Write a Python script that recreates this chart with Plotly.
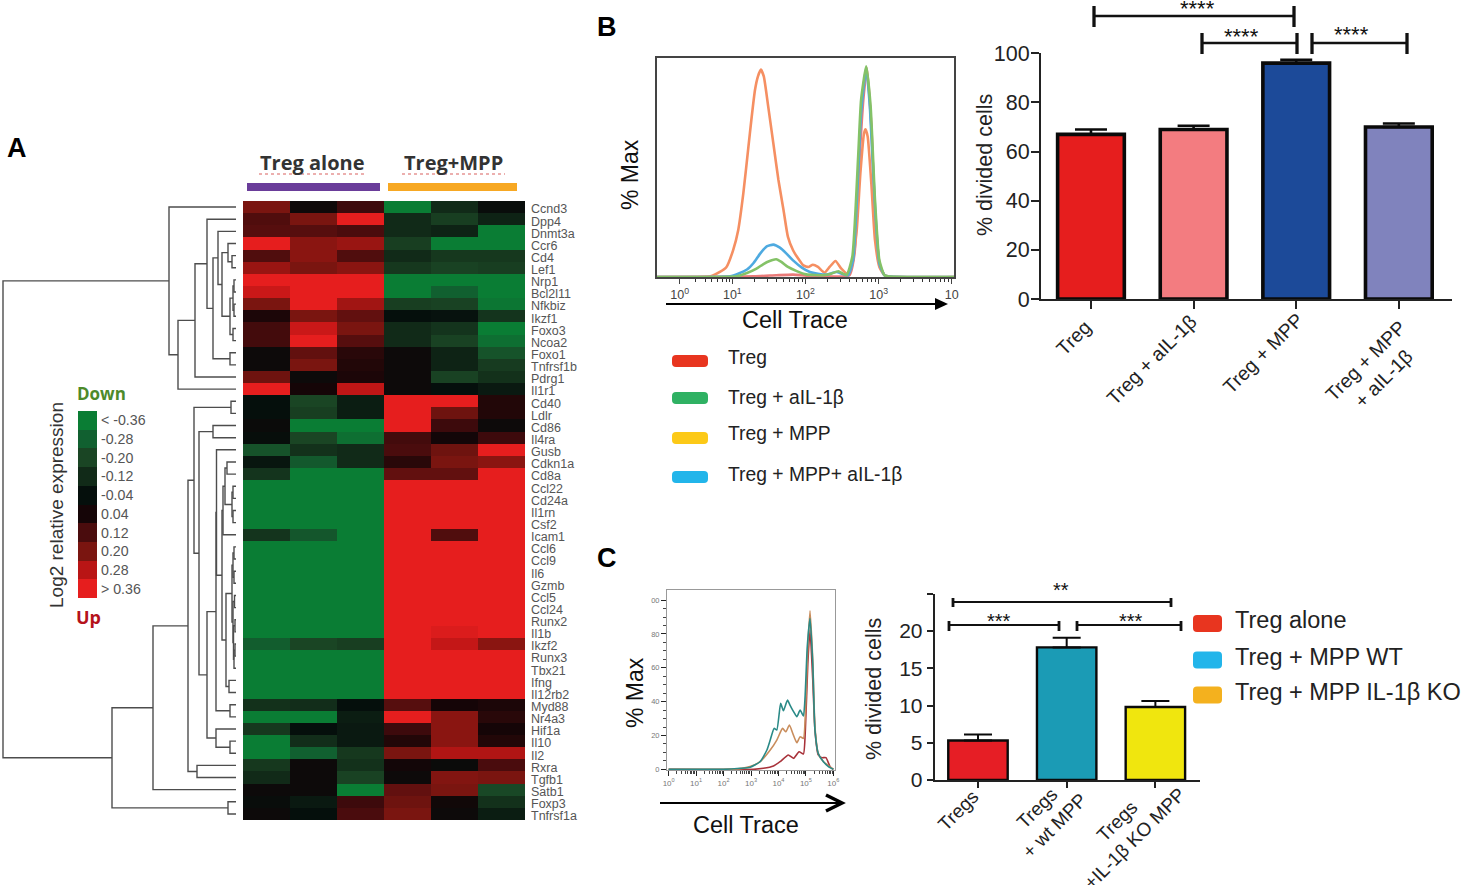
import numpy as np
import plotly.graph_objects as go

W, H = 1461, 885
SANS = "Liberation Sans"

# ---------- Panel A data ----------
genes = ["Ccnd3","Dpp4","Dnmt3a","Ccr6","Cd4","Lef1","Nrp1","Bcl2l11","Nfkbiz","Ikzf1","Foxo3","Ncoa2","Foxo1","Tnfrsf1b","Pdrg1","Il1r1",
         "Cd40","Ldlr","Cd86","Il4ra","Gusb","Cdkn1a","Cd8a","Ccl22","Cd24a","Il1rn","Csf2","Icam1","Ccl6","Ccl9","Il6","Gzmb","Ccl5","Ccl24","Runx2","Il1b","Ikzf2",
         "Runx3","Tbx21","Ifng","Il12rb2","Myd88","Nr4a3","Hif1a","Il10","Il2","Rxra","Tgfb1","Satb1","Foxp3","Tnfrsf1a"]
G = [-.36, -.36, -.36, .36, .36, .36]
heat_values = [
 [.20,.01,.10,-.36,-.12,-.02],[.13,.20,.36,-.12,-.18,-.10],[.14,.14,.12,-.12,-.10,-.36],[.36,.22,.24,-.18,-.36,-.36],
 [.13,.22,.13,-.12,-.16,-.16],[.24,.20,.22,-.16,-.19,-.18],[.36,.36,.36,-.36,-.36,-.36],[.31,.36,.36,-.36,-.28,-.36],
 [.20,.36,.25,-.18,-.19,-.34],[.05,.20,.16,-.04,-.05,-.15],[.11,.31,.20,-.12,-.15,-.36],[.11,.36,.14,-.12,-.19,-.32],
 [0,.16,.07,0,-.10,-.24],[0,.20,.06,0,-.10,-.17],[.18,0,.05,0,-.19,-.14],[.36,.04,.29,0,-.04,-.07],
 [-.04,-.20,-.08,.36,.36,.06],[-.04,-.18,-.08,.36,.18,.06],[-.01,-.36,-.36,.36,.10,0],[-.03,-.20,-.32,.11,.03,.10],
 [-.24,-.14,-.12,.12,.18,.36],[-.06,-.26,-.12,.07,.20,.22],[-.15,-.36,-.36,.16,.16,.36],G,G,G,G,
 [-.15,-.25,-.36,.36,.13,.36],G,G,G,G,G,G,G,[-.36,-.36,-.36,.36,.34,.36],[-.27,-.20,-.18,.36,.30,.22],G,G,G,G,
 [-.14,-.13,-.04,.14,.04,.05],[-.36,-.36,-.08,.36,.22,.07],[-.16,-.04,-.07,.10,.22,.04],[-.36,-.13,-.07,.06,.22,.06],
 [-.36,-.28,-.16,.20,.27,.27],[-.16,0,-.14,.03,-.01,.12],[-.12,0,-.19,0,.21,.20],[0,0,-.36,.16,.20,-.21],
 [-.02,-.07,.10,.18,.02,-.14],[0,-.04,.12,.20,0,-.08],
]
scale_levels = [-.36, -.28, -.20, -.12, -.04, .04, .12, .20, .28, .36]
scale_labels = ["< -0.36", "-0.28", "-0.20", "-0.12", "-0.04", "0.04", "0.12", "0.20", "0.28", "> 0.36"]
scale_colors = ["#0a7d34", "#116030", "#1a4524", "#112a18", "#050f0c", "#150507", "#4a0c0d", "#7a1510", "#b91515", "#e61e1e"]

# dendrogram: (merge distance, child, child), ints are gene rows
row_tree = (233,
  (67, 0, (58, (41, (29, 1, (23, (18, 2, (14, (8, 3, (4, 4, 5)),
        (6, (3, (2, 6, 7), (2, 8, 9)), (3, 10, 11)))), (6, 12, 13))), 14), 15)),
  (124, (83, (48, (42, (5, 16, 17), (37, (23, 18, 19),
        (29, (20, (19.5, 20, (14, (13, (11, (9, 21, 22), (4, (3, 23, 24), (3, 25, 26))), 27),
              (10, (4, (3, (2, 28, 29), (2, 30, 31)), (3, (1.5, 32, 33), (2.5, (1, 34, 35), (2, (1, 36, 37), 38)))), (7, 39, 40)))),
             (6, 41, 42)), (20, 43, (6, 44, 45))))), (39, 46, 47)), 48), (8, 49, 50)))

# ---------- Panel B data ----------
b_red_x = [-.03,1.29,1.60,1.83,2.06,2.60,2.67,2.74,2.79,2.84,2.90,2.95,3.02,3.10,4.03]
b_red_y = [0,.3,.8,1.1,.6,.8,10.7,55,80.9,95.4,68.7,29,4.6,.3,0]
b_orange_x = [-.03,.70,.83,.92,1.01,1.08,1.15,1.22,1.26,1.31,1.35,1.39,1.43,1.49,1.56,1.63,1.70,1.76,1.83,1.90,1.97,2.04,2.10,2.17,2.26,2.33,2.41,2.49,2.57,2.63,2.70,2.75,2.80,2.82,2.85,2.90,2.95,3.01,3.08,3.15,4.03]
b_orange_y = [0,.3,2.3,4.6,12.2,21.4,38.2,59.5,71.8,85.5,91.6,94.7,91.6,77.9,61.1,44.3,30.5,18.3,12.2,8.4,5.3,4.6,5.6,4.6,2,4.6,7.3,3.8,1.5,4.6,21.4,47.3,65.6,67.5,64.1,42.7,16.8,4.6,.8,.2,0]
b_blue_x = [-.03,.97,1.08,1.20,1.29,1.38,1.47,1.56,1.65,1.74,1.83,1.95,2.06,2.17,2.29,2.42,2.58,2.65,2.72,2.76,2.83,2.88,2.95,3.01,3.08,3.15,4.03]
b_blue_y = [0,.3,1.5,3.4,6.4,10.7,14,14.8,13.4,10.7,7.6,4.3,2.3,1.5,1.1,2.3,.8,7.6,47.3,74.8,95.4,77.9,32.1,6.1,.8,.2,0]
b_green_x = [-.03,1.06,1.20,1.33,1.42,1.51,1.60,1.67,1.76,1.88,2.01,2.24,2.35,2.45,2.56,2.64,2.72,2.76,2.83,2.89,2.95,3.01,3.08,3.15,4.03]
b_green_y = [0,.3,1.8,3.8,5.8,7.3,8.1,6.9,4.6,2.7,1.2,.8,1.5,2.6,.9,9.2,55,80.9,96.2,77.9,35.1,7.6,.8,.2,0]
b_bar_names = ["Treg", "Treg + aIL-1β", "Treg + MPP", "Treg + MPP<br>+ aIL-1β"]
b_bar_values = [67, 69, 96, 70]
b_bar_errors = [2, 1.5, 1.4, 1.4]
b_bar_colors = ["#e61e1e", "#f37c80", "#1c4a99", "#8083bd"]
b_legend = ["Treg", "Treg + aIL-1β", "Treg + MPP", "Treg + MPP+ aIL-1β"]
b_legend_colors = ["#e8351f", "#2fb163", "#fcc917", "#22b5ea"]

# ---------- Panel C data ----------
c_red_x = [0,3.09,3.45,3.82,4.06,4.36,4.55,4.75,4.91,4.98,5.07,5.15,5.25,5.33,5.45,5.58,5.73,5.88,6.0]
c_red_y = [0,0,.6,2,4.5,8.5,6.5,10.4,9.1,23.2,62.6,82.3,52.8,23.2,8.5,6.9,6.9,1.6,0]
c_tan_x = [0,2.0,2.61,2.97,3.33,3.70,3.94,4.15,4.27,4.40,4.52,4.67,4.79,4.91,4.99,5.07,5.15,5.25,5.33,5.45,5.64,6.0]
c_tan_y = [0,0,.4,1.6,4.5,11.4,17.3,24.2,22.2,26.2,21.3,15.7,19.3,18.3,37,72.4,93.7,64.6,25.2,9.4,4.5,0]
c_teal_x = [0,2.0,2.61,2.97,3.33,3.58,3.70,3.84,3.94,4.08,4.18,4.33,4.42,4.55,4.67,4.79,4.91,4.97,5.05,5.15,5.25,5.33,5.45,5.64,5.82,6.0]
c_teal_y = [0,0,.6,1.2,4.5,11.4,17.3,24.2,23.2,39,34.6,40.9,38,34.1,31.1,35,31.5,42.9,72.4,89.2,62.6,23.2,9.4,4.5,1.6,0]
c_bar_names = ["Tregs", "Tregs<br>+ wt MPP", "Tregs<br>+IL-1β KO MPP"]
c_bar_values = [5.3, 17.8, 9.8]
c_bar_errors = [0.8, 1.3, 0.8]
c_bar_colors = ["#e61e25", "#1b9bb5", "#f0e60e"]
c_legend = ["Treg alone", "Treg + MPP WT", "Treg + MPP IL-1β KO"]
c_legend_colors = ["#e8351f", "#22b5ea", "#f4b11e"]

# ---------- helpers ----------
def dx(a, b): return [a / W, b / W]
def dy(top, bottom): return [1 - bottom / H, 1 - top / H]
def px(x): return x / W
def py(y): return 1 - y / H

shapes, notes = [], []
def line(x0, y0, x1, y1, width=2.5, color="#111", dash="solid"):
    shapes.append(dict(type="line", xref="paper", yref="paper", x0=px(x0), y0=py(y0), x1=px(x1), y1=py(y1),
                       line=dict(color=color, width=width, dash=dash)))
def bracket(x0, x1, y, t0, t1, width=2.5):
    line(x0, y, x1, y, width)
    line(x0, t0, x0, t1, width + .8)
    line(x1, t0, x1, t1, width + .8)
def rrect(x0, y0, x1, y1, color, r=4):
    a, b, c, d = px(x0), px(x1), py(y0), py(y1)
    rx, ry = r / W, r / H
    path = (f"M {a+rx} {c} L {b-rx} {c} Q {b} {c} {b} {c-ry} L {b} {d+ry} Q {b} {d} {b-rx} {d} "
            f"L {a+rx} {d} Q {a} {d} {a} {d+ry} L {a} {c-ry} Q {a} {c} {a+rx} {c} Z")
    shapes.append(dict(type="path", xref="paper", yref="paper", path=path, fillcolor=color, line=dict(width=0)))
def txt(x, y, s, size, color="#1a1a1a", rot=0, anchor="center", family=SANS):
    notes.append(dict(xref="paper", yref="paper", x=px(x), y=py(y), text=s, showarrow=False, textangle=rot,
                      font=dict(family=family, size=size, color=color), xanchor=anchor, yanchor="middle",
                      align="center"))

fig = go.Figure()
cs = [[(v + .36) / .72, c] for v, c in zip(scale_levels, scale_colors)]
smooth = dict(shape="spline", smoothing=.5)

# ---------- Panel A ----------
fig.add_trace(go.Heatmap(z=heat_values, x=list(range(6)), y=list(range(len(genes))), zmin=-.36, zmax=.36, colorscale=cs,
                         showscale=False, xgap=0, ygap=0, xaxis="x", yaxis="y", hoverinfo="skip"))
dend_x, dend_y = [], []
def walk(node):
    if isinstance(node, int):
        return 0, node
    d, a, b = node
    da, ya = walk(a)
    db, yb = walk(b)
    dend_x.extend([da, d, d, db, None])
    dend_y.extend([ya, ya, yb, yb, None])
    return d, (ya + yb) / 2
walk(row_tree)
fig.add_trace(go.Scatter(x=dend_x, y=dend_y, mode="lines", line=dict(color="#4d4d4d", width=1.4), xaxis="x2", yaxis="y2", hoverinfo="skip"))
fig.add_trace(go.Heatmap(z=[[v] for v in scale_levels], y=list(range(10)), x=[0], zmin=-.36, zmax=.36, colorscale=cs,
                         showscale=False, xaxis="x3", yaxis="y3", hoverinfo="skip"))

# ---------- Panel B histogram ----------
for xs, ys, col in [(b_red_x, b_red_y, "#ea7a78"), (b_orange_x, b_orange_y, "#f58f62"),
                    (b_blue_x, b_blue_y, "#4eaae0"), (b_green_x, b_green_y, "#84c267")]:
    fig.add_trace(go.Scatter(x=xs, y=ys, mode="lines", line=dict(color=col, width=2.6, **smooth), xaxis="x4", yaxis="y4", hoverinfo="skip"))
# ---------- Panel B bars ----------
fig.add_trace(go.Bar(x=list(range(4)), y=b_bar_values, width=.65, marker=dict(color=b_bar_colors, line=dict(color="#0a0a0a", width=3.6)),
                     error_y=dict(type="data", array=b_bar_errors, symmetric=False, arrayminus=[0]*4, color="#0a0a0a", thickness=2.6, width=16),
                     xaxis="x5", yaxis="y5", hoverinfo="skip"))
# ---------- Panel C histogram ----------
for xs, ys, col in [(c_red_x, c_red_y, "#a8323a"), (c_tan_x, c_tan_y, "#c98d5c"), (c_teal_x, c_teal_y, "#2a8a87")]:
    fig.add_trace(go.Scatter(x=xs, y=ys, mode="lines", line=dict(color=col, width=1.6, **smooth), xaxis="x6", yaxis="y6", hoverinfo="skip"))
# ---------- Panel C bars ----------
fig.add_trace(go.Bar(x=list(range(3)), y=c_bar_values, width=.67, marker=dict(color=c_bar_colors, line=dict(color="#0a0a0a", width=2.4)),
                     error_y=dict(type="data", array=c_bar_errors, symmetric=False, arrayminus=[0]*3, color="#0a0a0a", thickness=2, width=14),
                     xaxis="x7", yaxis="y7", hoverinfo="skip"))

decade_minor = np.concatenate([d + np.log10(np.arange(2, 10)) for d in (1, 2, 3)]).tolist() + [.5, .63, .72, .8, .86, .92, .96]
c_minor = np.concatenate([d + np.log10(np.arange(2, 10)) for d in range(6)]).tolist()

fig.update_layout(
    template="none",
    width=W, height=H, autosize=False, margin=dict(l=0, r=0, t=0, b=0), paper_bgcolor="white", plot_bgcolor="white",
    showlegend=False, barmode="overlay", font=dict(family=SANS),
    xaxis=dict(domain=dx(243, 525), range=[-.5, 5.5], visible=False),
    yaxis=dict(domain=dy(201, 820), range=[50.5, -.5], side="right", tickmode="array", tickvals=[i + .16 for i in range(51)], ticktext=genes,
               ticks="", showline=False, showgrid=False, zeroline=False, tickfont=dict(family=SANS, size=12.5, color="#555"), ticklabelstandoff=5),
    xaxis2=dict(domain=dx(0, 243), range=[236, -7], visible=False),
    yaxis2=dict(domain=dy(201, 820), range=[50.5, -.5], visible=False, anchor="x2"),
    xaxis3=dict(domain=dx(78, 97), range=[-.5, .5], visible=False, anchor="y3"),
    yaxis3=dict(domain=dy(411, 598), range=[9.5, -.5], side="right", anchor="x3", tickmode="array", tickvals=list(range(10)), ticktext=scale_labels,
                ticks="", showline=False, showgrid=False, zeroline=False, tickfont=dict(family=SANS, size=14.2, color="#555"), ticklabelstandoff=3),
    xaxis4=dict(domain=dx(657, 954), range=[-.03, 4.03], anchor="y4", tickmode="array", tickvals=[.28, 1, 2, 3, 4],
                ticktext=["10<sup>0</sup>", "10<sup>1</sup>", "10<sup>2</sup>", "10<sup>3</sup>", "10"], ticks="outside", ticklen=5, tickwidth=1.2,
                minor=dict(tickmode="array", tickvals=decade_minor, ticks="outside", ticklen=3, tickwidth=.8, tickcolor="#333"),
                showline=True, linecolor="#444", linewidth=1.6, mirror=True, showgrid=False, zeroline=False,
                tickfont=dict(family=SANS, size=12.5, color="#444")),
    yaxis4=dict(domain=dy(58, 277), range=[0, 100], anchor="x4", showticklabels=False, ticks="", showline=True, linecolor="#444", linewidth=1.6,
                mirror=True, showgrid=False, zeroline=False),
    xaxis5=dict(domain=dx(1041, 1452), range=[-.487, 3.518], anchor="y5", tickmode="array", tickvals=list(range(4)), showticklabels=False,
                ticks="outside", ticklen=8, tickwidth=2, tickcolor="#222", showline=True, linecolor="#222", linewidth=2, showgrid=False,
                zeroline=False),
    yaxis5=dict(domain=dy(53.3, 299), range=[0, 100], anchor="x5", tickmode="array", tickvals=[0, 20, 40, 60, 80, 100], ticks="outside", ticklen=8,
                tickwidth=2, tickcolor="#222", showline=True, linecolor="#222", linewidth=2, showgrid=False, zeroline=False,
                tickfont=dict(family=SANS, size=21.5, color="#222"), ticklabelstandoff=-3),
    xaxis6=dict(domain=dx(667, 835), range=[-.06, 6.06], anchor="y6", tickmode="array", tickvals=list(range(7)),
                ticktext=[f"10<sup>{i}</sup>" for i in range(7)], ticks="outside", ticklen=5, tickwidth=1.2, tickcolor="#222",
                minor=dict(tickmode="array", tickvals=c_minor, ticks="outside", ticklen=3, tickwidth=.7, tickcolor="#444"),
                showline=True, linecolor="#999", linewidth=1, mirror=True, showgrid=False, zeroline=False,
                tickfont=dict(family=SANS, size=8, color="#777")),
    yaxis6=dict(domain=dy(590, 770), range=[-.4, 106], anchor="x6", tickmode="array", tickvals=[0, 20, 40, 60, 80, 100],
                ticktext=["0", "20", "40", "60", "80", "00"], ticks="outside", ticklen=5, tickwidth=1.2, tickcolor="#222",
                minor=dict(tickmode="array", tickvals=[v for v in range(0, 101, 5) if v % 20], ticks="outside", ticklen=3, tickwidth=.7, tickcolor="#444"),
                showline=True, linecolor="#999", linewidth=1, mirror=True, showgrid=False, zeroline=False,
                tickfont=dict(family=SANS, size=7.5, color="#777")),
    xaxis7=dict(domain=dx(934.6, 1200), range=[-.489, 2.503], anchor="y7", tickmode="array", tickvals=list(range(3)), showticklabels=False,
                ticks="outside", ticklen=6, tickwidth=1.8, tickcolor="#222", showline=True, linecolor="#222", linewidth=1.8, showgrid=False,
                zeroline=False),
    yaxis7=dict(domain=dy(594, 780), range=[0, 24.97], anchor="x7", tickmode="array", tickvals=[0, 5, 10, 15, 20, 24.97], ticktext=["0", "5", "10", "15", "20", ""],
                ticks="outside", ticklen=6, tickwidth=1.8, tickcolor="#222", showline=True, linecolor="#222", linewidth=1.8, showgrid=False, zeroline=False,
                tickfont=dict(family=SANS, size=21, color="#222")),
)

# ---------- decorations ----------
txt(17, 148, "<b>A</b>", 27, "#000"); txt(607, 27, "<b>B</b>", 27, "#000"); txt(607, 558, "<b>C</b>", 27, "#000")
txt(312, 162, "<b>Treg alone</b>", 20, "#333", family="Open Sans"); txt(453, 162, "<b>Treg+MPP</b>", 20, "#333", family="Open Sans")
line(259, 174, 365, 174, 1.2, "#d9605f", "dot"); line(402, 174, 505, 174, 1.2, "#d9605f", "dot")
shapes.append(dict(type="rect", xref="paper", yref="paper", x0=px(247), x1=px(380), y0=py(191), y1=py(183), fillcolor="#6a3d9a", line=dict(width=0)))
shapes.append(dict(type="rect", xref="paper", yref="paper", x0=px(388), x1=px(517), y0=py(191), y1=py(183), fillcolor="#f7a823", line=dict(width=0)))
txt(102, 393, "<b>Down</b>", 17, "#4d8a2a", family="Open Sans"); txt(88, 617, "<b>Up</b>", 18, "#b5121b", family="Open Sans")
txt(57, 505, "Log2 relative expression", 19, "#333", rot=-90)

txt(630, 175, "% Max", 23, "#111", rot=-90); txt(795, 320, "Cell Trace", 23.5, "#111")
line(666, 304, 938, 304, 1.8, "#000")
shapes.append(dict(type="path", xref="paper", yref="paper", fillcolor="#000", line=dict(width=0),
                   path=f"M {px(935)} {py(298)} L {px(948)} {py(304)} L {px(935)} {py(310)} Z"))
for i, (name, col, y) in enumerate(zip(b_legend, b_legend_colors, [361, 398, 438, 477])):
    rrect(672, y - 6, 708, y + 6, col, 4)
    txt(726, [357, 397, 434, 474][i], name, 19.3, "#222", anchor="left")
txt(985, 165, "% divided cells", 21.5, "#222", rot=-90)
bracket(1094, 1294, 16, 6, 27); bracket(1202, 1297, 43, 33, 54); bracket(1312, 1407, 43, 33, 54)
txt(1197, 9, "****", 22, "#111"); txt(1241, 37, "****", 22, "#111"); txt(1351, 35, "****", 22, "#111")
for name, cx, cy in zip(b_bar_names, [1073, 1151, 1263, 1374], [338, 360, 353, 369]):
    txt(cx, cy, name, 19.5, "#222", rot=-45)

txt(635, 693, "% Max", 23, "#111", rot=-90); txt(746, 825, "Cell Trace", 23.5, "#111")
line(660, 803, 840, 803, 1.8, "#000")
shapes.append(dict(type="path", xref="paper", yref="paper", line=dict(color="#000", width=3.5),
                   path=f"M {px(826)} {py(795)} L {px(842)} {py(803)} L {px(826)} {py(811)}"))
txt(874, 689, "% divided cells", 21.5, "#222", rot=-90)
bracket(953, 1171, 602, 598, 607, 2); bracket(949, 1059, 625, 621, 631, 2); bracket(1077, 1181, 625, 621, 631, 2)
txt(1061, 590, "**", 20, "#111"); txt(998.5, 621, "***", 20, "#111"); txt(1130.6, 621, "***", 20, "#111")
for name, cx, cy in zip(c_bar_names, [958, 1046, 1126], [810, 817, 830]):
    txt(cx, cy, name, 19, "#222", rot=-45)
for i, (name, col, y) in enumerate(zip(c_legend, c_legend_colors, [623.5, 660, 695])):
    rrect(1193, y - 8.5, 1222, y + 8.5, col, 4)
    txt(1233, [620, 657, 692][i], name, 23.5, "#222", anchor="left")

fig.update_layout(shapes=shapes, annotations=notes)
fig.write_html("out.html", config={"displayModeBar": False},
               post_script="document.body.style.margin='0';document.body.style.overflow='hidden';")
